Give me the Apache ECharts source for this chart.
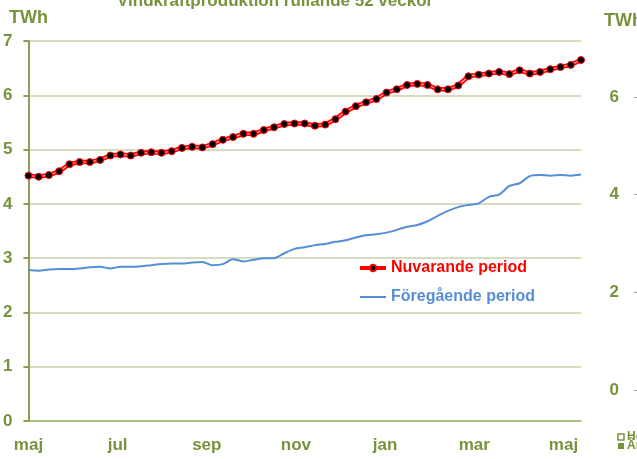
<!DOCTYPE html>
<html>
<head>
<meta charset="utf-8">
<script src="https://cdn.jsdelivr.net/npm/echarts@6/dist/echarts.min.js"></script>
<style>
  html, body { margin: 0; padding: 0; background: #fff; }
  #chart { width: 637px; height: 459px; }
</style>
</head>
<body>
<div id="chart"></div>
<script>
// rullande 52 veckor, en punkt per vecka (start 1 maj)
const monthLabels = ['maj', 'jul', 'sep', 'nov', 'jan', 'mar', 'maj']
const leftTicks = [0, 1, 2, 3, 4, 5, 6, 7]
const rightTicks = [0, 2, 4, 6]

const nuvarande = [
  4.52, 4.50, 4.53, 4.60, 4.73, 4.77, 4.77, 4.81, 4.89, 4.91,
  4.89, 4.94, 4.95, 4.94, 4.97, 5.03, 5.05, 5.04, 5.10, 5.18,
  5.23, 5.29, 5.29, 5.36, 5.41, 5.47, 5.48, 5.48, 5.44, 5.46,
  5.56, 5.70, 5.80, 5.87, 5.93, 6.05, 6.11, 6.19, 6.21, 6.19,
  6.11, 6.11, 6.18, 6.35, 6.38, 6.40, 6.43, 6.39, 6.46, 6.40,
  6.43, 6.48, 6.52, 6.56, 6.65
]
const foregaende = [
  2.78, 2.77, 2.79, 2.80, 2.80, 2.81, 2.83, 2.84, 2.81, 2.84,
  2.84, 2.85, 2.87, 2.89, 2.90, 2.90, 2.92, 2.93, 2.87, 2.89,
  2.98, 2.94, 2.97, 3.00, 3.00, 3.09, 3.17, 3.20, 3.24, 3.26,
  3.30, 3.33, 3.38, 3.42, 3.44, 3.47, 3.52, 3.58, 3.61, 3.68,
  3.78, 3.87, 3.94, 3.98, 4.01, 4.13, 4.17, 4.33, 4.38, 4.51,
  4.53, 4.52, 4.53, 4.52, 4.54
]

const green = '#77933c'
const DAYS_PER_WEEK = 7
const DAYS_PER_LABEL = 61

// veckonummer -> dag sedan start
const toPoints = arr => arr.map((v, i) => [i * DAYS_PER_WEEK, v])

const chart = echarts.init(document.getElementById('chart'))

const option = {
  animation: false,
  title: {
    text: 'Vindkraftproduktion rullande 52 veckor',
    left: 112,
    top: -12,
    textStyle: { color: green, fontSize: 17, fontWeight: 'bold', fontFamily: 'Liberation Sans' }
  },
  legend: {
    orient: 'vertical',
    left: 353,
    top: 255,
    itemWidth: 26,
    itemHeight: 8,
    itemGap: 13,
    textStyle: { fontSize: 16, fontWeight: 'bold', fontFamily: 'Liberation Sans' },
    data: [
      {
        name: 'Nuvarande period',
        textStyle: { color: '#ff0000' },
        lineStyle: { color: '#ff0000', width: 4 }
      },
      {
        name: 'Föregående period',
        icon: 'path://M0,0 L26,0 L26,2 L0,2 Z',
        itemStyle: { color: '#558ed5' },
        textStyle: { color: '#558ed5' }
      }
    ]
  },
  grid: [
    { left: 28, right: 56, top: 41, bottom: 38 },
    { left: 638, right: -60, top: 97, bottom: 69 }
  ],
  xAxis: [
    {
      type: 'value',
      gridIndex: 0,
      min: 0,
      max: (nuvarande.length - 1) * DAYS_PER_WEEK,
      interval: DAYS_PER_LABEL,
      axisLine: { lineStyle: { color: '#9bb36a', width: 1.5 } },
      axisTick: { show: false },
      splitLine: { show: false },
      axisLabel: {
        showMaxLabel: false,
        margin: 16,
        color: green,
        fontSize: 17,
        fontWeight: 'bold',
        fontFamily: 'Liberation Sans',
        formatter: v => monthLabels[Math.round(v / DAYS_PER_LABEL)] || ''
      }
    },
    { type: 'value', gridIndex: 1, show: false, min: 0, max: 1 }
  ],
  yAxis: [
    {
      type: 'value',
      gridIndex: 0,
      min: leftTicks[0],
      max: leftTicks[leftTicks.length - 1],
      interval: 1,
      name: 'TWh',
      nameLocation: 'end',
      nameGap: 14,
      nameTextStyle: { color: green, fontSize: 18, fontWeight: 'bold', fontFamily: 'Liberation Sans' },
      axisLine: { show: true, lineStyle: { color: '#8aa050', width: 2 } },
      axisTick: { show: true, length: 5, lineStyle: { color: '#8aa050', width: 2 } },
      axisLabel: { margin: 16, color: green, fontSize: 17, fontWeight: 'bold', fontFamily: 'Liberation Sans' },
      splitLine: { lineStyle: { color: '#c8d2aa', width: 1.5 } }
    },
    {
      type: 'value',
      gridIndex: 1,
      position: 'left',
      min: rightTicks[0],
      max: rightTicks[rightTicks.length - 1],
      interval: 2,
      axisLine: { show: false },
      axisTick: { show: true, length: 4, lineStyle: { color: '#a0a0a0' } },
      axisLabel: { margin: 19, color: green, fontSize: 17, fontWeight: 'bold', fontFamily: 'Liberation Sans' },
      splitLine: { show: false }
    }
  ],
  graphic: [
    {
      type: 'text', left: 604, top: 12,
      style: { text: 'TWh', fill: green, font: 'bold 18px "Liberation Sans"' }
    },
    {
      type: 'rect', shape: { x: 618, y: 434, width: 6, height: 6 },
      style: { fill: '#fff', stroke: green, lineWidth: 1.5 }
    },
    {
      type: 'text', left: 627, top: 431,
      style: { text: 'Hela', fill: green, font: 'bold 12px "Liberation Sans"' }
    },
    {
      type: 'rect', shape: { x: 618, y: 443, width: 6, height: 6 },
      style: { fill: green }
    },
    {
      type: 'text', left: 627, top: 440,
      style: { text: 'År', fill: green, font: 'bold 12px "Liberation Sans"' }
    }
  ],
  series: [
    {
      // ytterlinje (dubbel röd linje)
      type: 'line',
      silent: true,
      data: toPoints(nuvarande),
      showSymbol: false,
      symbol: 'none',
      lineStyle: { color: '#ff0000', width: 4.5 },
      z: 2
    },
    {
      name: 'Nuvarande period',
      type: 'line',
      data: toPoints(nuvarande),
      symbol: 'circle',
      symbolSize: 7,
      itemStyle: { color: '#000', borderColor: '#ff0000', borderWidth: 1 },
      lineStyle: { color: '#ffa0a0', width: 1.2 },
      z: 3
    },
    {
      name: 'Föregående period',
      type: 'line',
      data: toPoints(foregaende),
      smooth: 0.3,
      showSymbol: false,
      symbol: 'none',
      itemStyle: { color: '#558ed5' },
      lineStyle: { color: '#558ed5', width: 2 },
      z: 2
    }
  ]
}

chart.setOption(option)
</script>
</body>
</html>
